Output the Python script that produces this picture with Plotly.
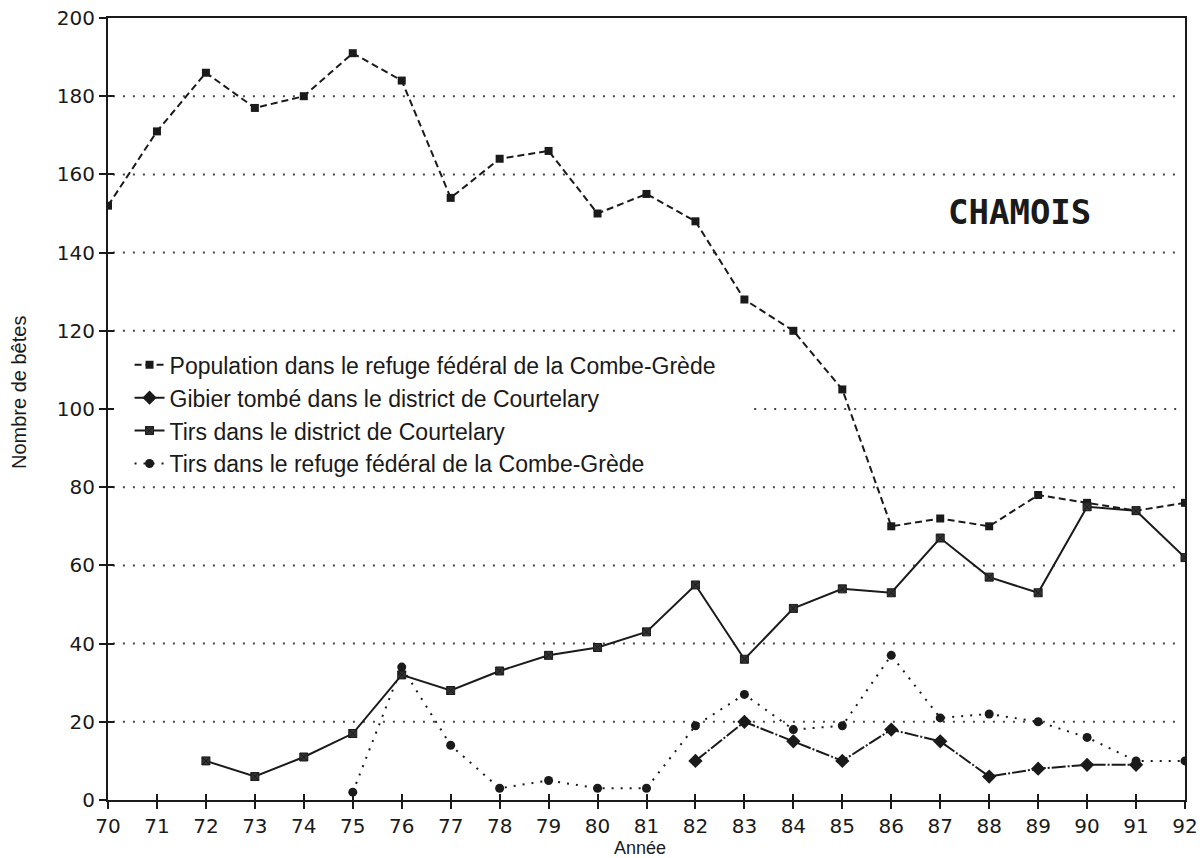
import plotly.graph_objects as go

# Years on the x axis (19xx, shown as two digits)
years = list(range(70, 93))
year_labels = [str(y) for y in years]

# Chamois population in the Combe-Grède federal refuge
pop_years = list(range(70, 93))
pop_values = [152, 171, 186, 177, 180, 191, 184, 154, 164, 166, 150, 155,
              148, 128, 120, 105, 70, 72, 70, 78, 76, 74, 76]

# Fallen game in the Courtelary district
gib_years = list(range(82, 92))
gib_values = [10, 20, 15, 10, 18, 15, 6, 8, 9, 9]

# Hunting kills in the Courtelary district
tirs_dist_years = list(range(72, 93))
tirs_dist_values = [10, 6, 11, 17, 32, 28, 33, 37, 39, 43, 55, 36, 49, 54,
                    53, 67, 57, 53, 75, 74, 62]

# Hunting kills in the Combe-Grède federal refuge
tirs_ref_years = list(range(75, 93))
tirs_ref_values = [2, 34, 14, 3, 5, 3, 3, 19, 27, 18, 19, 37, 21, 22, 20,
                   16, 10, 10]

y_ticks = [0, 20, 40, 60, 80, 100, 120, 140, 160, 180, 200]
grid_levels = [20, 40, 60, 80, 120, 140, 160, 180]

INK = "#1a1a1a"
FONT_TICK = "DejaVu Sans"
FONT_TEXT = "Liberation Sans"

fig = go.Figure()

fig.add_trace(go.Scatter(
    x=pop_years, y=pop_values, mode="lines+markers",
    name="Population dans le refuge fédéral de la Combe-Grède",
    line=dict(color=INK, width=2, dash="7px,4px"),
    marker=dict(symbol="square", size=8, color=INK),
    legendgroup="a",
))
fig.add_trace(go.Scatter(
    x=gib_years, y=gib_values, mode="lines+markers",
    name="Gibier tombé dans le district de Courtelary",
    line=dict(color=INK, width=2, dash="14px,2px,2px,2px"),
    marker=dict(symbol="diamond", size=11, color=INK),
    legendgroup="b",
))
fig.add_trace(go.Scatter(
    x=tirs_dist_years, y=tirs_dist_values, mode="lines+markers",
    name="Tirs dans le district de Courtelary",
    line=dict(color=INK, width=2),
    marker=dict(symbol="square-x", size=8, color="#333",
                line=dict(color=INK, width=1)),
    legendgroup="c",
))
fig.add_trace(go.Scatter(
    x=tirs_ref_years, y=tirs_ref_values, mode="lines+markers",
    name="Tirs dans le refuge fédéral de la Combe-Grède",
    line=dict(color=INK, width=2, dash="2px,7px"),
    marker=dict(symbol="circle", size=9, color=INK),
    legendgroup="d",
))

# Dotted horizontal reference lines
shapes = []
for lv in grid_levels:
    shapes.append(dict(type="line", xref="x", yref="y", x0=70.1, x1=91.9,
                       y0=lv, y1=lv, layer="below",
                       line=dict(color="#444", width=2, dash="2px,8px")))
# the 100 line stops short of the legend block
shapes.append(dict(type="line", xref="x", yref="y", x0=83.2, x1=91.9,
                   y0=100, y1=100, layer="below",
                   line=dict(color="#444", width=2, dash="2px,8px")))

axis_common = dict(showgrid=False, zeroline=False, showline=True,
                   linecolor=INK, linewidth=2, ticks="outside", ticklen=7,
                   tickwidth=1.5, tickcolor=INK, automargin=False,
                   tickfont=dict(family=FONT_TICK, size=20, color=INK))

fig.update_layout(
    width=1200, height=858,
    margin=dict(l=108, r=15, t=18, b=58, autoexpand=False),
    paper_bgcolor="white", plot_bgcolor="white",
    showlegend=True,
    legend=dict(x=0.02, y=0.584, xanchor="left", yanchor="top",
                bgcolor="rgba(255,255,255,0)", tracegroupgap=0,
                font=dict(family=FONT_TEXT, size=23, color=INK),
                itemwidth=30),
    xaxis=dict(range=[70, 92], tickvals=years, ticktext=year_labels,
               mirror=True, **axis_common),
    yaxis=dict(range=[0, 200], tickvals=y_ticks, mirror=True,
               **axis_common),
    # inner halves of the cross-shaped ticks
    xaxis2=dict(overlaying="x", matches="x", range=[70, 92], tickvals=years,
                showticklabels=False, ticks="inside", ticklen=6,
                tickwidth=1.5, tickcolor=INK, showgrid=False,
                zeroline=False, showline=False, anchor="y",
                automargin=False),
    yaxis2=dict(overlaying="y", matches="y", range=[0, 200],
                tickvals=y_ticks, showticklabels=False, ticks="inside",
                ticklen=6, tickwidth=1.5, tickcolor=INK, showgrid=False,
                zeroline=False, showline=False, anchor="x", side="left",
                automargin=False),
    shapes=shapes,
    annotations=[
        dict(text="CHAMOIS", xref="paper", yref="paper",
             x=(1019 - 108) / 1077, y=(800 - 212) / 782,
             showarrow=False, xanchor="center", yanchor="middle",
             font=dict(family="DejaVu Sans Mono", size=34, color=INK,
                       weight="bold")),
        dict(text="Nombre de bêtes", xref="paper", yref="paper",
             x=(19 - 108) / 1077, y=(800 - 393) / 782, textangle=-90,
             showarrow=False, xanchor="center", yanchor="middle",
             font=dict(family=FONT_TEXT, size=20, color=INK)),
        dict(text="Année", xref="paper", yref="paper",
             x=(640 - 108) / 1077, y=(800 - 848) / 782,
             showarrow=False, xanchor="center", yanchor="middle",
             font=dict(family=FONT_TEXT, size=18, color=INK)),
    ],
)

# an invisible trace keeps the overlay axes drawn
fig.add_trace(go.Scatter(x=[70], y=[0], xaxis="x2", yaxis="y2",
                         mode="markers", marker=dict(opacity=0),
                         showlegend=False, hoverinfo="skip"))

fig.write_html("out.html")
